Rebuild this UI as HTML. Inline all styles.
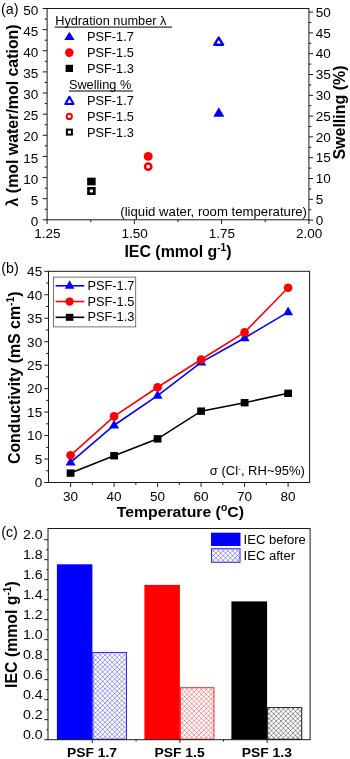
<!DOCTYPE html>
<html><head><meta charset="utf-8"><title>Figure</title>
<style>
html,body{margin:0;padding:0;background:#fff;}
body{width:350px;height:759px;overflow:hidden;}
svg{display:block;font-family:"Liberation Sans",sans-serif;}
text{fill:#000;}
.b{font-weight:bold;}
.ax{stroke:#1a1a1a;stroke-width:1;fill:none;}
</style></head><body>
<svg width="350" height="759" viewBox="0 0 350 759">
<rect width="350" height="759" fill="#fff"/>

<g id="panelA">
<rect class="ax" x="47.1" y="8.5" width="261.79999999999995" height="211.3"/>
<text transform="translate(1.00,14.40)" font-size="14.3" text-anchor="start">(a)</text>
<line class="ax" x1="42.7" y1="219.80" x2="47.1" y2="219.80"/>
<text transform="translate(38.30,225.90) scale(1.06,1)" font-size="12.8" text-anchor="end">0</text>
<line class="ax" x1="44.7" y1="209.24" x2="47.1" y2="209.24"/>
<line class="ax" x1="42.7" y1="198.67" x2="47.1" y2="198.67"/>
<text transform="translate(38.30,204.77) scale(1.06,1)" font-size="12.8" text-anchor="end">5</text>
<line class="ax" x1="44.7" y1="188.11" x2="47.1" y2="188.11"/>
<line class="ax" x1="42.7" y1="177.54" x2="47.1" y2="177.54"/>
<text transform="translate(38.30,183.64) scale(1.06,1)" font-size="12.8" text-anchor="end">10</text>
<line class="ax" x1="44.7" y1="166.98" x2="47.1" y2="166.98"/>
<line class="ax" x1="42.7" y1="156.41" x2="47.1" y2="156.41"/>
<text transform="translate(38.30,162.51) scale(1.06,1)" font-size="12.8" text-anchor="end">15</text>
<line class="ax" x1="44.7" y1="145.85" x2="47.1" y2="145.85"/>
<line class="ax" x1="42.7" y1="135.28" x2="47.1" y2="135.28"/>
<text transform="translate(38.30,141.38) scale(1.06,1)" font-size="12.8" text-anchor="end">20</text>
<line class="ax" x1="44.7" y1="124.72" x2="47.1" y2="124.72"/>
<line class="ax" x1="42.7" y1="114.15" x2="47.1" y2="114.15"/>
<text transform="translate(38.30,120.25) scale(1.06,1)" font-size="12.8" text-anchor="end">25</text>
<line class="ax" x1="44.7" y1="103.59" x2="47.1" y2="103.59"/>
<line class="ax" x1="42.7" y1="93.02" x2="47.1" y2="93.02"/>
<text transform="translate(38.30,99.12) scale(1.06,1)" font-size="12.8" text-anchor="end">30</text>
<line class="ax" x1="44.7" y1="82.46" x2="47.1" y2="82.46"/>
<line class="ax" x1="42.7" y1="71.89" x2="47.1" y2="71.89"/>
<text transform="translate(38.30,77.99) scale(1.06,1)" font-size="12.8" text-anchor="end">35</text>
<line class="ax" x1="44.7" y1="61.33" x2="47.1" y2="61.33"/>
<line class="ax" x1="42.7" y1="50.76" x2="47.1" y2="50.76"/>
<text transform="translate(38.30,56.86) scale(1.06,1)" font-size="12.8" text-anchor="end">40</text>
<line class="ax" x1="44.7" y1="40.20" x2="47.1" y2="40.20"/>
<line class="ax" x1="42.7" y1="29.63" x2="47.1" y2="29.63"/>
<text transform="translate(38.30,35.73) scale(1.06,1)" font-size="12.8" text-anchor="end">45</text>
<line class="ax" x1="44.7" y1="19.07" x2="47.1" y2="19.07"/>
<line class="ax" x1="42.7" y1="8.50" x2="47.1" y2="8.50"/>
<text transform="translate(38.30,14.60) scale(1.06,1)" font-size="12.8" text-anchor="end">50</text>
<line class="ax" x1="308.9" y1="220.10" x2="313.09999999999997" y2="220.10"/>
<text transform="translate(315.80,224.70) scale(1.06,1)" font-size="12.8" text-anchor="start">0</text>
<line class="ax" x1="308.9" y1="209.70" x2="311.29999999999995" y2="209.70"/>
<line class="ax" x1="308.9" y1="199.30" x2="313.09999999999997" y2="199.30"/>
<text transform="translate(315.80,203.90) scale(1.06,1)" font-size="12.8" text-anchor="start">5</text>
<line class="ax" x1="308.9" y1="188.90" x2="311.29999999999995" y2="188.90"/>
<line class="ax" x1="308.9" y1="178.50" x2="313.09999999999997" y2="178.50"/>
<text transform="translate(315.80,183.10) scale(1.06,1)" font-size="12.8" text-anchor="start">10</text>
<line class="ax" x1="308.9" y1="168.10" x2="311.29999999999995" y2="168.10"/>
<line class="ax" x1="308.9" y1="157.70" x2="313.09999999999997" y2="157.70"/>
<text transform="translate(315.80,162.30) scale(1.06,1)" font-size="12.8" text-anchor="start">15</text>
<line class="ax" x1="308.9" y1="147.30" x2="311.29999999999995" y2="147.30"/>
<line class="ax" x1="308.9" y1="136.90" x2="313.09999999999997" y2="136.90"/>
<text transform="translate(315.80,141.50) scale(1.06,1)" font-size="12.8" text-anchor="start">20</text>
<line class="ax" x1="308.9" y1="126.50" x2="311.29999999999995" y2="126.50"/>
<line class="ax" x1="308.9" y1="116.10" x2="313.09999999999997" y2="116.10"/>
<text transform="translate(315.80,120.70) scale(1.06,1)" font-size="12.8" text-anchor="start">25</text>
<line class="ax" x1="308.9" y1="105.70" x2="311.29999999999995" y2="105.70"/>
<line class="ax" x1="308.9" y1="95.30" x2="313.09999999999997" y2="95.30"/>
<text transform="translate(315.80,99.90) scale(1.06,1)" font-size="12.8" text-anchor="start">30</text>
<line class="ax" x1="308.9" y1="84.90" x2="311.29999999999995" y2="84.90"/>
<line class="ax" x1="308.9" y1="74.50" x2="313.09999999999997" y2="74.50"/>
<text transform="translate(315.80,79.10) scale(1.06,1)" font-size="12.8" text-anchor="start">35</text>
<line class="ax" x1="308.9" y1="64.10" x2="311.29999999999995" y2="64.10"/>
<line class="ax" x1="308.9" y1="53.70" x2="313.09999999999997" y2="53.70"/>
<text transform="translate(315.80,58.30) scale(1.06,1)" font-size="12.8" text-anchor="start">40</text>
<line class="ax" x1="308.9" y1="43.30" x2="311.29999999999995" y2="43.30"/>
<line class="ax" x1="308.9" y1="32.90" x2="313.09999999999997" y2="32.90"/>
<text transform="translate(315.80,37.50) scale(1.06,1)" font-size="12.8" text-anchor="start">45</text>
<line class="ax" x1="308.9" y1="22.50" x2="311.29999999999995" y2="22.50"/>
<line class="ax" x1="308.9" y1="12.10" x2="313.09999999999997" y2="12.10"/>
<text transform="translate(315.80,16.70) scale(1.06,1)" font-size="12.8" text-anchor="start">50</text>
<line class="ax" x1="47.10" y1="219.8" x2="47.10" y2="224.0"/>
<text transform="translate(47.40,238.20) scale(1.06,1)" font-size="12.8" text-anchor="middle">1.25</text>
<line class="ax" x1="90.73" y1="219.8" x2="90.73" y2="222.20000000000002"/>
<line class="ax" x1="134.37" y1="219.8" x2="134.37" y2="224.0"/>
<text transform="translate(134.67,238.20) scale(1.06,1)" font-size="12.8" text-anchor="middle">1.50</text>
<line class="ax" x1="178.00" y1="219.8" x2="178.00" y2="222.20000000000002"/>
<line class="ax" x1="221.63" y1="219.8" x2="221.63" y2="224.0"/>
<text transform="translate(221.93,238.20) scale(1.06,1)" font-size="12.8" text-anchor="middle">1.75</text>
<line class="ax" x1="265.27" y1="219.8" x2="265.27" y2="222.20000000000002"/>
<line class="ax" x1="308.90" y1="219.8" x2="308.90" y2="224.0"/>
<text transform="translate(309.20,238.20) scale(1.06,1)" font-size="12.8" text-anchor="middle">2.00</text>
<text class="b" transform="translate(178.00,256.70) scale(1.02,1)" font-size="15.6" text-anchor="middle">IEC (mmol g<tspan dy="-6" font-size="10">-1</tspan><tspan dy="6">)</tspan></text>
<text class="b" transform="translate(17.50,115.40) rotate(-90) scale(1.02,1)" font-size="15.6" text-anchor="middle">λ (mol water/mol cation)</text>
<text class="b" transform="translate(345.40,112.50) rotate(-90) scale(1.025,1)" font-size="15.6" text-anchor="middle">Swelling (%)</text>
<text transform="translate(55.20,25.20) scale(1.055,1)" font-size="12.1" text-anchor="start">Hydration number λ</text>
<line x1="54.8" y1="27.1" x2="172" y2="27.1" stroke="#000" stroke-width="1"/>
<polygon points="69.40,31.75 64.25,40.05 74.55,40.05" fill="#0000ff" stroke="none" stroke-width="0" stroke-linejoin="miter"/>
<text transform="translate(87.00,41.10) scale(1.055,1)" font-size="12.1" text-anchor="start">PSF-1.7</text>
<circle cx="69.30" cy="52.60" r="4.30" fill="#ff0000" stroke="none" stroke-width="0"/>
<text transform="translate(87.00,57.00) scale(1.055,1)" font-size="12.1" text-anchor="start">PSF-1.5</text>
<rect x="65.60" y="64.80" width="7.4" height="7.2" fill="#000000"/>
<text transform="translate(87.00,72.90) scale(1.055,1)" font-size="12.1" text-anchor="start">PSF-1.3</text>
<text transform="translate(68.90,89.20) scale(1.055,1)" font-size="12.1" text-anchor="start">Swelling %</text>
<line x1="68.9" y1="91" x2="132.9" y2="91" stroke="#000" stroke-width="1"/>
<polygon points="69.40,96.80 65.35,104.00 73.45,104.00" fill="#fff" stroke="#0000ff" stroke-width="2.2" stroke-linejoin="round"/>
<text transform="translate(87.00,104.90) scale(1.055,1)" font-size="12.1" text-anchor="start">PSF-1.7</text>
<circle cx="69.30" cy="116.40" r="2.60" fill="#fff" stroke="#ff0000" stroke-width="2.0"/>
<text transform="translate(87.00,120.70) scale(1.055,1)" font-size="12.1" text-anchor="start">PSF-1.5</text>
<rect x="66.90" y="129.60" width="5.0" height="5.0" fill="#fff" stroke="#000000" stroke-width="2.0"/>
<text transform="translate(87.00,136.50) scale(1.055,1)" font-size="12.1" text-anchor="start">PSF-1.3</text>
<polygon points="218.80,107.15 213.30,116.85 224.30,116.85" fill="#0000ff" stroke="none" stroke-width="0" stroke-linejoin="miter"/>
<polygon points="218.70,37.60 214.30,44.80 223.10,44.80" fill="#fff" stroke="#0000ff" stroke-width="2.4" stroke-linejoin="round"/>
<circle cx="148.20" cy="156.40" r="4.45" fill="#ff0000" stroke="none" stroke-width="0"/>
<circle cx="148.20" cy="166.60" r="3.15" fill="#fff" stroke="#ff0000" stroke-width="2.6"/>
<rect x="87.15" y="177.65" width="8.5" height="7.7" fill="#000000"/>
<rect x="88.45" y="188.30" width="5.9" height="5.4" fill="#fff" stroke="#000000" stroke-width="2.6"/>
<text transform="translate(120.30,216.40) scale(1.09,1)" font-size="12.1" text-anchor="start">(liquid water, room temperature)</text>
</g>
<g id="panelB">
<rect class="ax" x="48.5" y="271.3" width="261.1" height="211.2"/>
<text transform="translate(1.20,273.30)" font-size="14.3" text-anchor="start">(b)</text>
<line class="ax" x1="44.3" y1="482.50" x2="48.5" y2="482.50"/>
<text transform="translate(42.20,487.30) scale(1.06,1)" font-size="12.8" text-anchor="end">0</text>
<line class="ax" x1="46.1" y1="470.77" x2="48.5" y2="470.77"/>
<line class="ax" x1="44.3" y1="459.03" x2="48.5" y2="459.03"/>
<text transform="translate(42.20,463.83) scale(1.06,1)" font-size="12.8" text-anchor="end">5</text>
<line class="ax" x1="46.1" y1="447.30" x2="48.5" y2="447.30"/>
<line class="ax" x1="44.3" y1="435.57" x2="48.5" y2="435.57"/>
<text transform="translate(42.20,440.37) scale(1.06,1)" font-size="12.8" text-anchor="end">10</text>
<line class="ax" x1="46.1" y1="423.83" x2="48.5" y2="423.83"/>
<line class="ax" x1="44.3" y1="412.10" x2="48.5" y2="412.10"/>
<text transform="translate(42.20,416.90) scale(1.06,1)" font-size="12.8" text-anchor="end">15</text>
<line class="ax" x1="46.1" y1="400.37" x2="48.5" y2="400.37"/>
<line class="ax" x1="44.3" y1="388.63" x2="48.5" y2="388.63"/>
<text transform="translate(42.20,393.43) scale(1.06,1)" font-size="12.8" text-anchor="end">20</text>
<line class="ax" x1="46.1" y1="376.90" x2="48.5" y2="376.90"/>
<line class="ax" x1="44.3" y1="365.17" x2="48.5" y2="365.17"/>
<text transform="translate(42.20,369.97) scale(1.06,1)" font-size="12.8" text-anchor="end">25</text>
<line class="ax" x1="46.1" y1="353.43" x2="48.5" y2="353.43"/>
<line class="ax" x1="44.3" y1="341.70" x2="48.5" y2="341.70"/>
<text transform="translate(42.20,346.50) scale(1.06,1)" font-size="12.8" text-anchor="end">30</text>
<line class="ax" x1="46.1" y1="329.97" x2="48.5" y2="329.97"/>
<line class="ax" x1="44.3" y1="318.23" x2="48.5" y2="318.23"/>
<text transform="translate(42.20,323.03) scale(1.06,1)" font-size="12.8" text-anchor="end">35</text>
<line class="ax" x1="46.1" y1="306.50" x2="48.5" y2="306.50"/>
<line class="ax" x1="44.3" y1="294.77" x2="48.5" y2="294.77"/>
<text transform="translate(42.20,299.57) scale(1.06,1)" font-size="12.8" text-anchor="end">40</text>
<line class="ax" x1="46.1" y1="283.03" x2="48.5" y2="283.03"/>
<line class="ax" x1="44.3" y1="271.30" x2="48.5" y2="271.30"/>
<text transform="translate(42.20,276.10) scale(1.06,1)" font-size="12.8" text-anchor="end">45</text>
<line class="ax" x1="70.60" y1="482.5" x2="70.60" y2="486.9"/>
<text transform="translate(70.60,500.80) scale(1.06,1)" font-size="12.8" text-anchor="middle">30</text>
<line class="ax" x1="114.10" y1="482.5" x2="114.10" y2="486.9"/>
<text transform="translate(114.10,500.80) scale(1.06,1)" font-size="12.8" text-anchor="middle">40</text>
<line class="ax" x1="157.60" y1="482.5" x2="157.60" y2="486.9"/>
<text transform="translate(157.60,500.80) scale(1.06,1)" font-size="12.8" text-anchor="middle">50</text>
<line class="ax" x1="201.10" y1="482.5" x2="201.10" y2="486.9"/>
<text transform="translate(201.10,500.80) scale(1.06,1)" font-size="12.8" text-anchor="middle">60</text>
<line class="ax" x1="244.60" y1="482.5" x2="244.60" y2="486.9"/>
<text transform="translate(244.60,500.80) scale(1.06,1)" font-size="12.8" text-anchor="middle">70</text>
<line class="ax" x1="288.10" y1="482.5" x2="288.10" y2="486.9"/>
<text transform="translate(288.10,500.80) scale(1.06,1)" font-size="12.8" text-anchor="middle">80</text>
<line class="ax" x1="92.35" y1="482.5" x2="92.35" y2="484.9"/>
<line class="ax" x1="135.85" y1="482.5" x2="135.85" y2="484.9"/>
<line class="ax" x1="179.35" y1="482.5" x2="179.35" y2="484.9"/>
<line class="ax" x1="222.85" y1="482.5" x2="222.85" y2="484.9"/>
<line class="ax" x1="266.35" y1="482.5" x2="266.35" y2="484.9"/>
<text class="b" transform="translate(180.30,516.80) scale(1.04,1)" font-size="15.2" text-anchor="middle">Temperature (<tspan dy="-6" font-size="10">o</tspan><tspan dy="6">C)</tspan></text>
<text class="b" transform="translate(20.00,377.80) rotate(-90) scale(1.02,1)" font-size="15.6" text-anchor="middle">Conductivity (mS cm<tspan dy="-6" font-size="10">-1</tspan><tspan dy="6">)</tspan></text>
<polyline points="70.60,473.11 114.10,455.75 157.60,438.85 201.10,411.16 244.60,402.71 288.10,393.33" fill="none" stroke="#000000" stroke-width="1.6"/>
<rect x="66.70" y="469.41" width="7.8" height="7.4" fill="#000000"/>
<rect x="110.20" y="452.05" width="7.8" height="7.4" fill="#000000"/>
<rect x="153.70" y="435.15" width="7.8" height="7.4" fill="#000000"/>
<rect x="197.20" y="407.46" width="7.8" height="7.4" fill="#000000"/>
<rect x="240.70" y="399.01" width="7.8" height="7.4" fill="#000000"/>
<rect x="284.20" y="389.63" width="7.8" height="7.4" fill="#000000"/>
<polyline points="70.60,462.32 114.10,425.24 157.60,395.67 201.10,362.35 244.60,337.95 288.10,312.13" fill="none" stroke="#0000ff" stroke-width="1.6"/>
<polygon points="70.60,456.72 65.60,465.52 75.60,465.52" fill="#0000ff" stroke="none" stroke-width="0" stroke-linejoin="miter"/>
<polygon points="114.10,419.64 109.10,428.44 119.10,428.44" fill="#0000ff" stroke="none" stroke-width="0" stroke-linejoin="miter"/>
<polygon points="157.60,390.07 152.60,398.87 162.60,398.87" fill="#0000ff" stroke="none" stroke-width="0" stroke-linejoin="miter"/>
<polygon points="201.10,356.75 196.10,365.55 206.10,365.55" fill="#0000ff" stroke="none" stroke-width="0" stroke-linejoin="miter"/>
<polygon points="244.60,332.35 239.60,341.15 249.60,341.15" fill="#0000ff" stroke="none" stroke-width="0" stroke-linejoin="miter"/>
<polygon points="288.10,306.53 283.10,315.33 293.10,315.33" fill="#0000ff" stroke="none" stroke-width="0" stroke-linejoin="miter"/>
<polyline points="70.60,455.28 114.10,416.32 157.60,387.23 201.10,359.53 244.60,332.31 288.10,287.73" fill="none" stroke="#ff0000" stroke-width="1.6"/>
<circle cx="70.60" cy="455.28" r="4.35" fill="#ff0000" stroke="none" stroke-width="0"/>
<circle cx="114.10" cy="416.32" r="4.35" fill="#ff0000" stroke="none" stroke-width="0"/>
<circle cx="157.60" cy="387.23" r="4.35" fill="#ff0000" stroke="none" stroke-width="0"/>
<circle cx="201.10" cy="359.53" r="4.35" fill="#ff0000" stroke="none" stroke-width="0"/>
<circle cx="244.60" cy="332.31" r="4.35" fill="#ff0000" stroke="none" stroke-width="0"/>
<circle cx="288.10" cy="287.73" r="4.35" fill="#ff0000" stroke="none" stroke-width="0"/>
<rect x="53.5" y="277.1" width="82.2" height="49.8" fill="#fff" stroke="#555" stroke-width="0.8"/>
<line x1="55.6" y1="285.8" x2="84.3" y2="285.8" stroke="#0000ff" stroke-width="1.6"/>
<polygon points="69.60,280.35 64.80,288.65 74.40,288.65" fill="#0000ff" stroke="none" stroke-width="0" stroke-linejoin="miter"/>
<text transform="translate(87.50,289.80) scale(1.055,1)" font-size="12.1" text-anchor="start">PSF-1.7</text>
<line x1="55.6" y1="301.55" x2="84.3" y2="301.55" stroke="#ff0000" stroke-width="1.6"/>
<circle cx="69.60" cy="301.55" r="4.15" fill="#ff0000" stroke="none" stroke-width="0"/>
<text transform="translate(87.50,305.55) scale(1.055,1)" font-size="12.1" text-anchor="start">PSF-1.5</text>
<line x1="55.6" y1="317.3" x2="84.3" y2="317.3" stroke="#000000" stroke-width="1.6"/>
<rect x="65.80" y="313.80" width="7.6" height="7.0" fill="#000000"/>
<text transform="translate(87.50,321.30) scale(1.055,1)" font-size="12.1" text-anchor="start">PSF-1.3</text>
<text transform="translate(209.80,474.90) scale(1.075,1)" font-size="12.1" text-anchor="start">σ (Cl<tspan dy="-4" font-size="8">-</tspan><tspan dy="4">, RH~95%)</tspan></text>
</g>
<g id="panelC">
<text transform="translate(1.20,537.20)" font-size="14.3" text-anchor="start">(c)</text>
<rect x="56.9" y="564.30" width="35.50" height="175.40" fill="#0000ff"/>
<clipPath id="hc1"><rect x="92.40" y="652.00" width="34.60" height="87.70"/></clipPath><path clip-path="url(#hc1)" d="M-3.60 652.00l87.70 87.70M84.10 652.00l-87.70 87.70M1.20 652.00l87.70 87.70M88.90 652.00l-87.70 87.70M6.00 652.00l87.70 87.70M93.70 652.00l-87.70 87.70M10.80 652.00l87.70 87.70M98.50 652.00l-87.70 87.70M15.60 652.00l87.70 87.70M103.30 652.00l-87.70 87.70M20.40 652.00l87.70 87.70M108.10 652.00l-87.70 87.70M25.20 652.00l87.70 87.70M112.90 652.00l-87.70 87.70M30.00 652.00l87.70 87.70M117.70 652.00l-87.70 87.70M34.80 652.00l87.70 87.70M122.50 652.00l-87.70 87.70M39.60 652.00l87.70 87.70M127.30 652.00l-87.70 87.70M44.40 652.00l87.70 87.70M132.10 652.00l-87.70 87.70M49.20 652.00l87.70 87.70M136.90 652.00l-87.70 87.70M54.00 652.00l87.70 87.70M141.70 652.00l-87.70 87.70M58.80 652.00l87.70 87.70M146.50 652.00l-87.70 87.70M63.60 652.00l87.70 87.70M151.30 652.00l-87.70 87.70M68.40 652.00l87.70 87.70M156.10 652.00l-87.70 87.70M73.20 652.00l87.70 87.70M160.90 652.00l-87.70 87.70M78.00 652.00l87.70 87.70M165.70 652.00l-87.70 87.70M82.80 652.00l87.70 87.70M170.50 652.00l-87.70 87.70M87.60 652.00l87.70 87.70M175.30 652.00l-87.70 87.70M92.40 652.00l87.70 87.70M180.10 652.00l-87.70 87.70M97.20 652.00l87.70 87.70M184.90 652.00l-87.70 87.70M102.00 652.00l87.70 87.70M189.70 652.00l-87.70 87.70M106.80 652.00l87.70 87.70M194.50 652.00l-87.70 87.70M111.60 652.00l87.70 87.70M199.30 652.00l-87.70 87.70M116.40 652.00l87.70 87.70M204.10 652.00l-87.70 87.70M121.20 652.00l87.70 87.70M208.90 652.00l-87.70 87.70M126.00 652.00l87.70 87.70M213.70 652.00l-87.70 87.70M130.80 652.00l87.70 87.70M218.50 652.00l-87.70 87.70" stroke="#2a2aff" stroke-width="0.48" fill="none"/><rect x="92.90" y="652.50" width="33.60" height="86.70" fill="none" stroke="#2a2aff" stroke-width="1.0"/>
<rect x="144.4" y="584.90" width="35.50" height="154.80" fill="#ff0000"/>
<clipPath id="hc2"><rect x="179.90" y="687.20" width="34.50" height="52.50"/></clipPath><path clip-path="url(#hc2)" d="M122.30 687.20l52.50 52.50M174.80 687.20l-52.50 52.50M127.10 687.20l52.50 52.50M179.60 687.20l-52.50 52.50M131.90 687.20l52.50 52.50M184.40 687.20l-52.50 52.50M136.70 687.20l52.50 52.50M189.20 687.20l-52.50 52.50M141.50 687.20l52.50 52.50M194.00 687.20l-52.50 52.50M146.30 687.20l52.50 52.50M198.80 687.20l-52.50 52.50M151.10 687.20l52.50 52.50M203.60 687.20l-52.50 52.50M155.90 687.20l52.50 52.50M208.40 687.20l-52.50 52.50M160.70 687.20l52.50 52.50M213.20 687.20l-52.50 52.50M165.50 687.20l52.50 52.50M218.00 687.20l-52.50 52.50M170.30 687.20l52.50 52.50M222.80 687.20l-52.50 52.50M175.10 687.20l52.50 52.50M227.60 687.20l-52.50 52.50M179.90 687.20l52.50 52.50M232.40 687.20l-52.50 52.50M184.70 687.20l52.50 52.50M237.20 687.20l-52.50 52.50M189.50 687.20l52.50 52.50M242.00 687.20l-52.50 52.50M194.30 687.20l52.50 52.50M246.80 687.20l-52.50 52.50M199.10 687.20l52.50 52.50M251.60 687.20l-52.50 52.50M203.90 687.20l52.50 52.50M256.40 687.20l-52.50 52.50M208.70 687.20l52.50 52.50M261.20 687.20l-52.50 52.50M213.50 687.20l52.50 52.50M266.00 687.20l-52.50 52.50M218.30 687.20l52.50 52.50M270.80 687.20l-52.50 52.50" stroke="#ff2a2a" stroke-width="0.48" fill="none"/><rect x="180.40" y="687.70" width="33.50" height="51.50" fill="none" stroke="#ff2a2a" stroke-width="1.0"/>
<rect x="231.4" y="601.40" width="35.70" height="138.30" fill="#000000"/>
<clipPath id="hc3"><rect x="267.10" y="707.10" width="35.10" height="32.60"/></clipPath><path clip-path="url(#hc3)" d="M228.70 707.10l32.60 32.60M261.30 707.10l-32.60 32.60M233.50 707.10l32.60 32.60M266.10 707.10l-32.60 32.60M238.30 707.10l32.60 32.60M270.90 707.10l-32.60 32.60M243.10 707.10l32.60 32.60M275.70 707.10l-32.60 32.60M247.90 707.10l32.60 32.60M280.50 707.10l-32.60 32.60M252.70 707.10l32.60 32.60M285.30 707.10l-32.60 32.60M257.50 707.10l32.60 32.60M290.10 707.10l-32.60 32.60M262.30 707.10l32.60 32.60M294.90 707.10l-32.60 32.60M267.10 707.10l32.60 32.60M299.70 707.10l-32.60 32.60M271.90 707.10l32.60 32.60M304.50 707.10l-32.60 32.60M276.70 707.10l32.60 32.60M309.30 707.10l-32.60 32.60M281.50 707.10l32.60 32.60M314.10 707.10l-32.60 32.60M286.30 707.10l32.60 32.60M318.90 707.10l-32.60 32.60M291.10 707.10l32.60 32.60M323.70 707.10l-32.60 32.60M295.90 707.10l32.60 32.60M328.50 707.10l-32.60 32.60M300.70 707.10l32.60 32.60M333.30 707.10l-32.60 32.60M305.50 707.10l32.60 32.60M338.10 707.10l-32.60 32.60" stroke="#222222" stroke-width="0.48" fill="none"/><rect x="267.60" y="707.60" width="34.10" height="31.60" fill="none" stroke="#222222" stroke-width="1.0"/>
<rect class="ax" x="48.0" y="528.5" width="262.1" height="211.20000000000005"/>
<line class="ax" x1="44.2" y1="739.70" x2="48.0" y2="739.70"/>
<text transform="translate(42.70,739.00) scale(1.06,1)" font-size="13.4" text-anchor="end">0.0</text>
<line class="ax" x1="46.4" y1="729.70" x2="48.0" y2="729.70"/>
<line class="ax" x1="44.2" y1="719.70" x2="48.0" y2="719.70"/>
<text transform="translate(42.70,719.00) scale(1.06,1)" font-size="13.4" text-anchor="end">0.2</text>
<line class="ax" x1="46.4" y1="709.70" x2="48.0" y2="709.70"/>
<line class="ax" x1="44.2" y1="699.70" x2="48.0" y2="699.70"/>
<text transform="translate(42.70,699.00) scale(1.06,1)" font-size="13.4" text-anchor="end">0.4</text>
<line class="ax" x1="46.4" y1="689.70" x2="48.0" y2="689.70"/>
<line class="ax" x1="44.2" y1="679.70" x2="48.0" y2="679.70"/>
<text transform="translate(42.70,679.00) scale(1.06,1)" font-size="13.4" text-anchor="end">0.6</text>
<line class="ax" x1="46.4" y1="669.70" x2="48.0" y2="669.70"/>
<line class="ax" x1="44.2" y1="659.70" x2="48.0" y2="659.70"/>
<text transform="translate(42.70,659.00) scale(1.06,1)" font-size="13.4" text-anchor="end">0.8</text>
<line class="ax" x1="46.4" y1="649.70" x2="48.0" y2="649.70"/>
<line class="ax" x1="44.2" y1="639.70" x2="48.0" y2="639.70"/>
<text transform="translate(42.70,639.00) scale(1.06,1)" font-size="13.4" text-anchor="end">1.0</text>
<line class="ax" x1="46.4" y1="629.70" x2="48.0" y2="629.70"/>
<line class="ax" x1="44.2" y1="619.70" x2="48.0" y2="619.70"/>
<text transform="translate(42.70,619.00) scale(1.06,1)" font-size="13.4" text-anchor="end">1.2</text>
<line class="ax" x1="46.4" y1="609.70" x2="48.0" y2="609.70"/>
<line class="ax" x1="44.2" y1="599.70" x2="48.0" y2="599.70"/>
<text transform="translate(42.70,599.00) scale(1.06,1)" font-size="13.4" text-anchor="end">1.4</text>
<line class="ax" x1="46.4" y1="589.70" x2="48.0" y2="589.70"/>
<line class="ax" x1="44.2" y1="579.70" x2="48.0" y2="579.70"/>
<text transform="translate(42.70,579.00) scale(1.06,1)" font-size="13.4" text-anchor="end">1.6</text>
<line class="ax" x1="46.4" y1="569.70" x2="48.0" y2="569.70"/>
<line class="ax" x1="44.2" y1="559.70" x2="48.0" y2="559.70"/>
<text transform="translate(42.70,559.00) scale(1.06,1)" font-size="13.4" text-anchor="end">1.8</text>
<line class="ax" x1="46.4" y1="549.70" x2="48.0" y2="549.70"/>
<line class="ax" x1="44.2" y1="539.70" x2="48.0" y2="539.70"/>
<text transform="translate(42.70,539.00) scale(1.06,1)" font-size="13.4" text-anchor="end">2.0</text>
<line class="ax" x1="92.3" y1="739.7" x2="92.3" y2="742.9000000000001"/>
<text class="b" transform="translate(92.00,757.30) scale(1.085,1)" font-size="12.8" text-anchor="middle">PSF 1.7</text>
<line class="ax" x1="179.9" y1="739.7" x2="179.9" y2="742.9000000000001"/>
<text class="b" transform="translate(179.60,757.30) scale(1.085,1)" font-size="12.8" text-anchor="middle">PSF 1.5</text>
<line class="ax" x1="267.1" y1="739.7" x2="267.1" y2="742.9000000000001"/>
<text class="b" transform="translate(266.80,757.30) scale(1.085,1)" font-size="12.8" text-anchor="middle">PSF 1.3</text>
<line class="ax" x1="136.1" y1="739.7" x2="136.1" y2="741.5"/>
<line class="ax" x1="223.5" y1="739.7" x2="223.5" y2="741.5"/>
<text class="b" transform="translate(16.90,634.60) rotate(-90) scale(1.015,1)" font-size="15.6" text-anchor="middle">IEC (mmol g<tspan dy="-6" font-size="10">-1</tspan><tspan dy="6">)</tspan></text>
<rect x="211" y="532.7" width="29.5" height="13.3" fill="#0000ff"/>
<clipPath id="hc4"><rect x="211.00" y="548.20" width="29.50" height="14.60"/></clipPath><path clip-path="url(#hc4)" d="M187.00 548.20l14.60 14.60M201.60 548.20l-14.60 14.60M191.80 548.20l14.60 14.60M206.40 548.20l-14.60 14.60M196.60 548.20l14.60 14.60M211.20 548.20l-14.60 14.60M201.40 548.20l14.60 14.60M216.00 548.20l-14.60 14.60M206.20 548.20l14.60 14.60M220.80 548.20l-14.60 14.60M211.00 548.20l14.60 14.60M225.60 548.20l-14.60 14.60M215.80 548.20l14.60 14.60M230.40 548.20l-14.60 14.60M220.60 548.20l14.60 14.60M235.20 548.20l-14.60 14.60M225.40 548.20l14.60 14.60M240.00 548.20l-14.60 14.60M230.20 548.20l14.60 14.60M244.80 548.20l-14.60 14.60M235.00 548.20l14.60 14.60M249.60 548.20l-14.60 14.60M239.80 548.20l14.60 14.60M254.40 548.20l-14.60 14.60M244.60 548.20l14.60 14.60M259.20 548.20l-14.60 14.60" stroke="#2a2aff" stroke-width="0.48" fill="none"/><rect x="211.50" y="548.70" width="28.50" height="13.60" fill="none" stroke="#2a2aff" stroke-width="1.0"/>
<text transform="translate(243.60,544.00) scale(1.06,1)" font-size="12.3" text-anchor="start">IEC before</text>
<text transform="translate(243.60,560.00) scale(1.06,1)" font-size="12.3" text-anchor="start">IEC after</text>
</g>
</svg></body></html>
